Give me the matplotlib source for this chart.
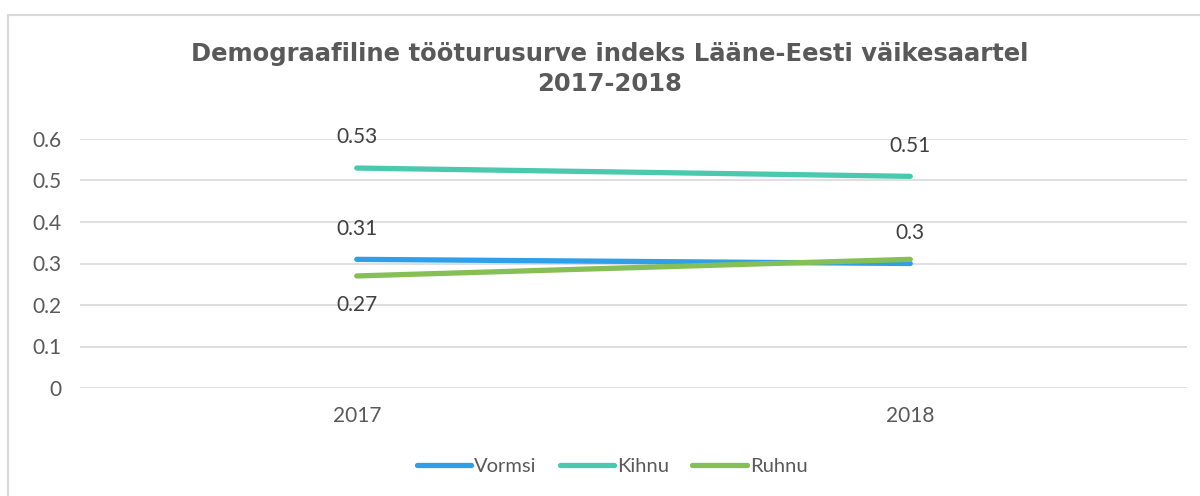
import matplotlib.pyplot as plt
from matplotlib.patches import Rectangle

plt.rcParams['font.family'] = ['Lato', 'DejaVu Sans']

years = ["2017", "2018"]
vormsi = [0.31, 0.30]
kihnu = [0.53, 0.51]
ruhnu = [0.27, 0.31]

series = [
    ("Vormsi", vormsi, "#2E9FE8"),
    ("Kihnu", kihnu, "#4BC9AE"),
    ("Ruhnu", ruhnu, "#86BF56"),
]
# which points get a label and where (offset in points)
label_offsets = {
    "Vormsi": [22, 22],
    "Kihnu": [22, 22],
    "Ruhnu": [-21, None],
}

fig = plt.figure(figsize=(12, 4.96), dpi=100)
fig.patches.append(Rectangle((8 / 1200, -0.1), 1.2, 1 - 15 / 496 + 0.1,
                             transform=fig.transFigure, fill=False,
                             edgecolor="#D9D9D9", linewidth=1.5))
ax = fig.add_axes([80 / 1200, 1 - 388 / 496, (1187 - 80) / 1200, (388 - 139) / 496])

x = range(len(years))
for name, vals, col in series:
    ax.plot(x, vals, color=col, linewidth=3.8, solid_capstyle="round", label=name)
    for i, v in enumerate(vals):
        off = label_offsets[name][i]
        if off is None:
            continue
        ax.annotate(f"{v:g}", (i, v), xytext=(0, off), textcoords="offset points",
                    ha="center", va="center", fontsize=15, color="#404040")

ax.set_xlim(-0.5, 1.5)
ax.set_ylim(0, 0.6)
ax.set_yticks([0, 0.1, 0.2, 0.3, 0.4, 0.5, 0.6])
ax.set_yticklabels(["0", "0.1", "0.2", "0.3", "0.4", "0.5", "0.6"])
ax.set_xticks(list(x))
ax.set_xticklabels(years)
ax.tick_params(length=0, labelsize=15, labelcolor="#595959")
ax.tick_params(axis="y", pad=13)
ax.tick_params(axis="x", pad=13)
ax.grid(axis="y", color="#D9D9D9", linewidth=1.2)
ax.set_axisbelow(True)
for s in ax.spines.values():
    s.set_visible(False)

fig.text(0.508, 1 - 69 / 496, "Demograafiline tööturusurve indeks Lääne-Eesti väikesaartel\n2017-2018",
         ha="center", va="center", fontsize=17.5, fontweight="bold", color="#595959",
         linespacing=1.3, family=["DejaVu Sans"])

fig.legend(loc="center", bbox_to_anchor=(0.51, 1 - 466 / 496), ncol=3, frameon=False,
           fontsize=14.5, labelcolor="#595959", handlelength=2.7, handletextpad=0.15,
           columnspacing=1.15)

fig.savefig("out.png", dpi=100)
